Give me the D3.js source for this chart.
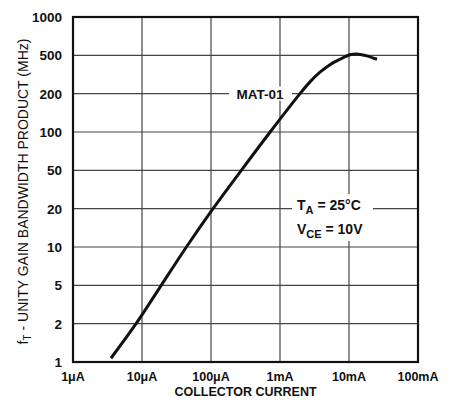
<!DOCTYPE html>
<html lang="en">
<head>
    <meta charset="UTF-8">
    <script src="https://d3js.org/d3.v7.min.js"></script>
    <title>MAT-01 fT vs Collector Current</title>
    <style>
        html, body {
            margin: 0px;
            padding: 0px;
            background-color: #ffffff;
            font-family: "Liberation Sans", Arial, sans-serif;
        }
        svg text { fill: #111; }
    </style>
</head>
<body>
    <div id="chart"></div>
    <script>

        // x: collector current (A), log decades
        let xTicks = [1e-6, 1e-5, 1e-4, 1e-3, 1e-2, 1e-1];
        let xTickLabels = ['1\u03bcA', '10\u03bcA', '100\u03bcA', '1mA', '10mA', '100mA'];

        // y: fT (MHz), 1-2-5 steps drawn equally spaced
        let yTicks = [1, 2, 5, 10, 20, 50, 100, 200, 500, 1000];

        // curve
        let current = [3.55e-6, 8.2e-6, 1.9e-5, 4.4e-5, 1.07e-4, 2.75e-4, 7.2e-4, 1.95e-3, 2.72e-3, 3.8e-3, 5.3e-3, 7.4e-3, 1.03e-2, 1.3e-2, 1.75e-2, 2.55e-2];
        let ft      = [1.07,    2,      5,      10,     20,      50,      100,    200,     265,     334,    400,    455,    505,     513,    497,     455];

        let width = 453, height = 404;
        let margin = {top: 17, right: 35, bottom: 42, left: 73};

        let svg = d3.select('#chart').append('svg')
            .attr('width', width)
            .attr('height', height);

        let x = d3.scaleLog()
            .domain([1e-6, 1e-1])
            .range([margin.left, width - margin.right]);

        let yPos = d3.scalePoint()
            .domain(yTicks)
            .range([height - margin.bottom, margin.top]);

        // piecewise log scale so each 1-2-5 step gets the same height
        let y = d3.scaleLog()
            .domain(yTicks)
            .range(yTicks.map(d => yPos(d)));

        let grid = svg.append('g')
            .attr('stroke', '#444')
            .attr('stroke-width', 1.2);

        grid.selectAll('line.h')
            .data(yTicks.slice(1, -1))
            .join('line')
            .attr('class', 'h')
            .attr('x1', margin.left)
            .attr('x2', width - margin.right)
            .attr('y1', d => y(d))
            .attr('y2', d => y(d));

        grid.selectAll('line.v')
            .data(xTicks.slice(1, -1))
            .join('line')
            .attr('class', 'v')
            .attr('x1', d => x(d))
            .attr('x2', d => x(d))
            .attr('y1', margin.top)
            .attr('y2', height - margin.bottom);

        // curve
        let pts = current.map((c, i) => [x(c), y(ft[i])]);
        svg.append('path')
            .attr('d', d3.line().curve(d3.curveCatmullRom.alpha(0.5))(pts))
            .attr('fill', 'none')
            .attr('stroke', '#111')
            .attr('stroke-width', 3)
            .attr('stroke-linecap', 'butt');

        // frame
        svg.append('rect')
            .attr('x', margin.left)
            .attr('y', margin.top)
            .attr('width', width - margin.left - margin.right)
            .attr('height', height - margin.top - margin.bottom)
            .attr('fill', 'none')
            .attr('stroke', '#111')
            .attr('stroke-width', 2.2);

        // y tick labels
        svg.append('g')
            .selectAll('text')
            .data(yTicks)
            .join('text')
            .attr('x', margin.left - 11)
            .attr('y', d => y(d))
            .attr('dy', '0.36em')
            .attr('text-anchor', 'end')
            .attr('font-size', 13.5)
            .attr('font-weight', 'bold')
            .text(d => d);

        // x tick labels
        svg.append('g')
            .selectAll('text')
            .data(xTicks)
            .join('text')
            .attr('x', d => x(d))
            .attr('y', height - margin.bottom + 19)
            .attr('text-anchor', 'middle')
            .attr('font-size', 12.5)
            .attr('font-weight', 'bold')
            .text((d, i) => xTickLabels[i]);

        svg.append('text')
            .attr('x', (margin.left + width - margin.right) / 2)
            .attr('y', height - 8)
            .attr('text-anchor', 'middle')
            .attr('font-size', 12.5)
            .attr('font-weight', 'bold')
            .text('COLLECTOR CURRENT');

        // y axis title
        let yt = svg.append('text')
            .attr('transform', `translate(28,${(margin.top + height - margin.bottom) / 2 + 2}) rotate(-90)`)
            .attr('text-anchor', 'middle')
            .attr('font-size', 14);
        yt.append('tspan').text('f');
        yt.append('tspan').attr('font-size', 10).attr('dy', 3).text('T');
        yt.append('tspan').attr('dy', -3).text(' - UNITY GAIN BANDWIDTH PRODUCT (MHz)');

        // MAT-01 label on the 200 gridline
        svg.append('rect')
            .attr('x', 229).attr('y', y(200) - 7)
            .attr('width', 63).attr('height', 14)
            .attr('fill', '#fff');
        svg.append('text')
            .attr('x', 260)
            .attr('y', y(200))
            .attr('dy', '0.36em')
            .attr('text-anchor', 'middle')
            .attr('font-size', 13.5)
            .attr('font-weight', 'bold')
            .text('MAT-01');

        // conditions box
        svg.append('rect')
            .attr('x', 292).attr('y', 194)
            .attr('width', 81).attr('height', 47)
            .attr('fill', '#fff');
        let t1 = svg.append('text')
            .attr('x', 297).attr('y', 210)
            .attr('font-size', 14)
            .attr('font-weight', 'bold');
        t1.append('tspan').text('T');
        t1.append('tspan').attr('font-size', 11).attr('dy', 4).text('A');
        t1.append('tspan').attr('dy', -4).text(' = 25\u00b0C');
        let t2 = svg.append('text')
            .attr('x', 297).attr('y', 234)
            .attr('font-size', 14)
            .attr('font-weight', 'bold');
        t2.append('tspan').text('V');
        t2.append('tspan').attr('font-size', 11).attr('dy', 4).text('CE');
        t2.append('tspan').attr('dy', -4).text(' = 10V');

    </script>
</body>
</html>
